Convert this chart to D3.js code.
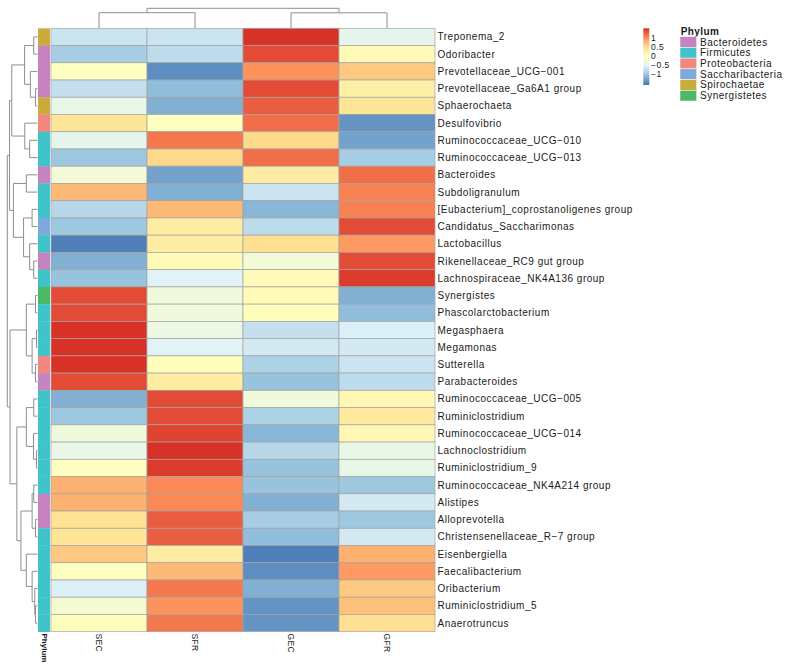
<!DOCTYPE html>
<html>
<head>
<meta charset="utf-8">
<script src="https://cdn.jsdelivr.net/npm/d3@7/dist/d3.min.js"></script>
<style>
  html, body { margin: 0; padding: 0; background: #ffffff; }
  svg { display: block; font-family: "Liberation Sans", Arial, Helvetica, sans-serif; }
</style>
</head>
<body>
<svg id="chart" width="792" height="667"></svg>
<script>
// ---------------- data ----------------
const colNames = ["SEC", "SFR", "GEC", "GFR"];

const rowNames = [
  "Treponema_2", "Odoribacter", "Prevotellaceae_UCG\u2212001", "Prevotellaceae_Ga6A1 group",
  "Sphaerochaeta", "Desulfovibrio", "Ruminococcaceae_UCG\u2212010", "Ruminococcaceae_UCG\u2212013",
  "Bacteroides", "Subdoligranulum", "[Eubacterium]_coprostanoligenes group",
  "Candidatus_Saccharimonas", "Lactobacillus", "Rikenellaceae_RC9 gut group",
  "Lachnospiraceae_NK4A136 group", "Synergistes", "Phascolarctobacterium", "Megasphaera",
  "Megamonas", "Sutterella", "Parabacteroides", "Ruminococcaceae_UCG\u2212005",
  "Ruminiclostridium", "Ruminococcaceae_UCG\u2212014", "Lachnoclostridium", "Ruminiclostridium_9",
  "Ruminococcaceae_NK4A214 group", "Alistipes", "Alloprevotella",
  "Christensenellaceae_R\u22127 group", "Eisenbergiella", "Faecalibacterium", "Oribacterium",
  "Ruminiclostridium_5", "Anaerotruncus"
];

const rowPhylum = [
  "Spirochaetae", "Bacteroidetes", "Bacteroidetes", "Bacteroidetes", "Spirochaetae",
  "Proteobacteria", "Firmicutes", "Firmicutes", "Bacteroidetes", "Firmicutes", "Firmicutes",
  "Saccharibacteria", "Firmicutes", "Bacteroidetes", "Firmicutes", "Synergistetes",
  "Firmicutes", "Firmicutes", "Firmicutes", "Proteobacteria", "Bacteroidetes",
  "Firmicutes", "Firmicutes", "Firmicutes", "Firmicutes", "Firmicutes", "Firmicutes",
  "Bacteroidetes", "Bacteroidetes", "Firmicutes", "Firmicutes", "Firmicutes", "Firmicutes",
  "Firmicutes", "Firmicutes"
];

// row-scaled values (z-scores) per sample column
const valSEC = [-0.7, -0.95, -0.05, -0.75, -0.4, 0.4, -0.45, -1.0, -0.25, 0.75, -0.85, -1.0, -1.55, -1.2, -1.05,
  1.4, 1.4, 1.55, 1.55, 1.55, 1.4, -1.2, -1.0, -0.3, -0.4, -0.05, 0.8, 0.8, 0.45, 0.4, 0.65, -0.05, -0.6, -0.2, 0.0];
const valSFR = [-0.7, -0.8, -1.45, -1.1, -1.2, -0.05, 1.15, 0.55, -1.3, -1.2, 0.75, 0.3, 0.3, 0.05, -0.55,
  -0.3, -0.3, -0.35, -0.55, 0.0, 0.3, 1.4, 1.4, 1.45, 1.55, 1.5, 1.05, 1.05, 1.3, 1.3, 0.3, 0.75, 1.15, 1.0, 1.15];
const valGEC = [1.55, 1.4, 1.0, 1.4, 1.3, 1.2, 0.55, 1.2, 0.3, -0.7, -1.15, -0.8, 0.5, -0.25, 0.05,
  0.05, 0.0, -0.75, -0.65, -0.9, -1.05, -0.3, -0.9, -1.15, -0.85, -1.05, -1.05, -1.2, -0.95, -1.1, -1.55, -1.45, -1.2, -1.4, -1.4];
const valGFR = [-0.45, 0.05, 0.65, 0.25, 0.4, -1.4, -1.3, -0.95, 1.2, 1.1, 1.1, 1.4, 0.95, 1.4, 1.5,
  -1.2, -1.1, -0.6, -0.65, -0.7, -0.8, 0.1, 0.35, 0.1, -0.4, -0.4, -1.0, -0.65, -1.0, -0.65, 0.8, 0.95, 0.65, 0.7, 0.5];
const seriesByCol = [valSEC, valSFR, valGEC, valGFR];

const phylumNames = ["Bacteroidetes", "Firmicutes", "Proteobacteria", "Saccharibacteria", "Spirochaetae", "Synergistetes"];
const phylumColors = ["#C583C0", "#40C4C9", "#F2877F", "#7EA9DD", "#C9AC3A", "#4DB966"];

const colorStops = ["#4575B4", "#91BFDB", "#E0F3F8", "#FFFFBF", "#FEE090", "#FC8D59", "#D73027"];
const colorDomain = [-1.62, 1.56];
const legendTicks = [1, 0.5, 0, -0.5, -1];

// dendrograms: [height, left, right]; leaves are row/column indices
const rowTree = [29.7,
  [27.5,
    [25.3,
      [12.7, [3.7, 0, 1], [7, 2, [2, 3, 4]]],
      [12.5, 5, [7.7, 6, 7]]],
    [23.7, [11, 8, 9], [13.7, [5.3, 10, 11], [7.7, 12, [3.7, 13, 14]]]]],
  [27,
    [11, [2, 15, 16], [5.3, [1, 17, 18], [2, 19, 20]]],
    [20.3,
      [11, [3.7, 21, 22], [3.9, 23, [1, 24, 25]]],
      [16.3,
        [5.3, [3.7, 26, 27], [2, 28, 29]],
        [11, 30, [5.3, 31, [2.7, 32, [2, 33, 34]]]]]]]];
const colTree = [20, [15.6, 0, 1], [15.5, 2, 3]];

// ---------------- drawing ----------------
const svg = d3.select("#chart");
const lineColor = "#8e8e8e";

const x = d3.scaleBand().domain(d3.range(colNames.length)).range([51, 435]);
const y = d3.scaleBand().domain(d3.range(rowNames.length)).range([28.3, 631.7]);

const color = d3.scaleLinear()
  .domain(d3.range(colorStops.length).map(i => colorDomain[0] + i * (colorDomain[1] - colorDomain[0]) / (colorStops.length - 1)))
  .range(colorStops)
  .interpolate(d3.interpolateRgb)
  .clamp(true);

const phylumColor = d3.scaleOrdinal().domain(phylumNames).range(phylumColors);

// heatmap cells
const cells = [];
seriesByCol.forEach((arr, c) => arr.forEach((v, r) => cells.push({ r, c, v })));
svg.append("g").selectAll("rect").data(cells).join("rect")
  .attr("x", d => x(d.c))
  .attr("y", d => y(d.r))
  .attr("width", x.bandwidth())
  .attr("height", y.bandwidth())
  .attr("fill", d => color(d.v))
  .attr("stroke", "#a3a3a3")
  .attr("stroke-width", 0.7);

// annotation column
const annX = d3.scaleBand().domain(["Phylum"]).range([38, 50]);
svg.append("g").selectAll("rect").data(rowPhylum).join("rect")
  .attr("x", annX("Phylum"))
  .attr("y", (d, i) => y(i))
  .attr("width", annX.bandwidth())
  .attr("height", y.bandwidth() + 0.3)
  .attr("fill", d => phylumColor(d));

// row labels
svg.append("g").selectAll("text").data(rowNames).join("text")
  .attr("x", 437.5)
  .attr("y", (d, i) => y(i) + y.bandwidth() / 2)
  .attr("dominant-baseline", "central")
  .attr("font-size", 10)
  .attr("letter-spacing", 0.5)
  .attr("fill", "#1a1a1a")
  .text(d => d);

// column labels (rotated)
svg.append("g").selectAll("text").data(colNames).join("text")
  .attr("transform", (d, i) => `translate(${x(i) + x.bandwidth() / 2},633.5) rotate(90)`)
  .attr("dominant-baseline", "central")
  .attr("font-size", 8.5)
  .attr("letter-spacing", 0.3)
  .attr("fill", "#1a1a1a")
  .text(d => d);

svg.append("text")
  .attr("transform", `translate(${annX("Phylum") + annX.bandwidth() / 2},633.5) rotate(90)`)
  .attr("dominant-baseline", "central")
  .attr("font-size", 8)
  .attr("font-weight", "bold")
  .attr("fill", "#1a1a1a")
  .text("Phylum");

// dendrogram helper
function layoutTree(node, leafPos, segs, hScale, horizontal) {
  if (typeof node === "number") return { pos: leafPos(node), h: 0 };
  const [h, a, b] = node;
  const A = layoutTree(a, leafPos, segs, hScale, horizontal);
  const B = layoutTree(b, leafPos, segs, hScale, horizontal);
  const hp = hScale(h);
  if (horizontal) {
    segs.push([[hScale(A.h), A.pos], [hp, A.pos], [hp, B.pos], [hScale(B.h), B.pos]]);
  } else {
    segs.push([[A.pos, hScale(A.h)], [A.pos, hp], [B.pos, hp], [B.pos, hScale(B.h)]]);
  }
  return { pos: (A.pos + B.pos) / 2, h };
}

const rowH = d3.scaleLinear().domain([0, rowTree[0]]).range([37.5, 7.3]);
const rowSegs = [];
layoutTree(rowTree, i => y(i) + y.bandwidth() / 2, rowSegs, rowH, true);

const colH = d3.scaleLinear().domain([0, colTree[0]]).range([28.3, 8.3]);
const colSegs = [];
layoutTree(colTree, i => x(i) + x.bandwidth() / 2, colSegs, colH, false);

const line = d3.line();
svg.append("g").selectAll("path").data(rowSegs.concat(colSegs)).join("path")
  .attr("d", d => line(d))
  .attr("fill", "none")
  .attr("stroke", lineColor)
  .attr("stroke-width", 1);

// color bar legend
const barY = d3.scaleLinear().domain(colorDomain).range([85, 28.3]);
const defs = svg.append("defs");
const grad = defs.append("linearGradient").attr("id", "cbar")
  .attr("x1", 0).attr("y1", 1).attr("x2", 0).attr("y2", 0);
grad.selectAll("stop").data(d3.range(0, 1.0001, 0.05)).join("stop")
  .attr("offset", d => d)
  .attr("stop-color", d => color(colorDomain[0] + d * (colorDomain[1] - colorDomain[0])));
svg.append("rect")
  .attr("x", 643.3).attr("y", barY(colorDomain[1]))
  .attr("width", 6).attr("height", barY(colorDomain[0]) - barY(colorDomain[1]))
  .attr("fill", "url(#cbar)");
svg.append("g").selectAll("text").data(legendTicks).join("text")
  .attr("x", 651)
  .attr("y", d => barY(d))
  .attr("dominant-baseline", "central")
  .attr("font-size", 8.5)
  .attr("letter-spacing", 0.5)
  .attr("fill", "#1a1a1a")
  .text(d => d < 0 ? "\u2212" + Math.abs(d) : String(d));

// phylum legend
const legY = d3.scaleBand().domain(phylumNames).range([36.7, 101]);
svg.append("text")
  .attr("x", 680.7).attr("y", 35)
  .attr("font-size", 10)
  .attr("font-weight", "bold")
  .attr("letter-spacing", 0.4)
  .attr("fill", "#1a1a1a")
  .text("Phylum");
svg.append("g").selectAll("rect").data(phylumNames).join("rect")
  .attr("x", 680).attr("y", d => legY(d))
  .attr("width", 16.7).attr("height", legY.bandwidth())
  .attr("fill", d => phylumColor(d))
  .attr("stroke", "#ffffff").attr("stroke-width", 0.5);
svg.append("g").selectAll("text").data(phylumNames).join("text")
  .attr("x", 700)
  .attr("y", d => legY(d) + legY.bandwidth() / 2)
  .attr("dominant-baseline", "central")
  .attr("font-size", 10)
  .attr("letter-spacing", 0.5)
  .attr("fill", "#1a1a1a")
  .text(d => d);
</script>
</body>
</html>
